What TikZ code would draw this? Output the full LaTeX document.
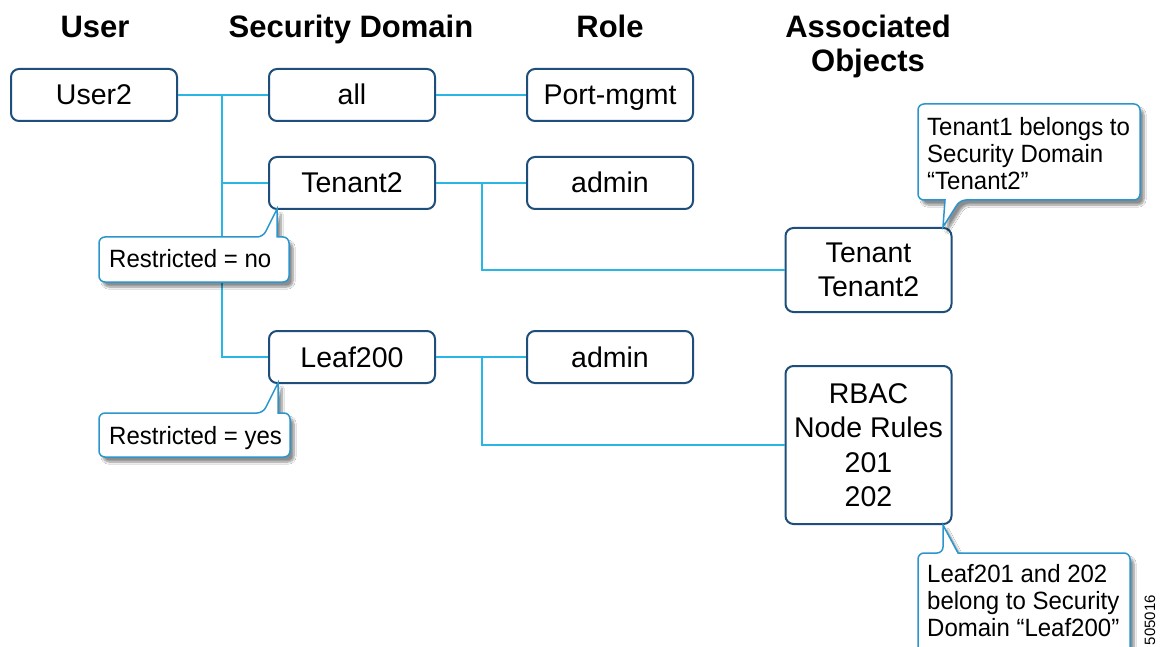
\documentclass[tikz,border=0pt]{standalone}
\usepackage{fontspec}
\setmainfont{Liberation Sans}
\newfontfamily\narrowfont[FakeStretch=0.96]{Liberation Sans}
\usetikzlibrary{shadows.blur}
\definecolor{boxline}{RGB}{30,78,122}
\definecolor{wire}{RGB}{41,182,230}
\definecolor{callline}{RGB}{42,150,205}
\tikzset{
  objbox/.style={draw=boxline, line width=2pt, rounded corners=8pt, fill=white,
    minimum width=166pt, minimum height=52pt, inner sep=0pt,
    font=\fontsize{28.5}{34.5}\selectfont, align=center},
  onebox/.style={objbox, text height=20pt, text depth=0pt},
  header/.style={font=\fontsize{31}{34}\selectfont\bfseries, anchor=base, align=center, inner sep=0pt},
  wireline/.style={draw=wire, line width=2pt},
  callshape/.style={draw=callline, line width=1.5pt, fill=white,
    blur shadow={shadow xshift=4pt, shadow yshift=-5pt, shadow blur steps=8, shadow opacity=45}},
  calltext/.style={font=\narrowfont\fontsize{25}{27}\selectfont, align=left, inner sep=0pt},
}
\begin{document}
\begin{tikzpicture}[x=1pt,y=-1pt]
\useasboundingbox (0,0) rectangle (1170,647);
\clip (0,0) rectangle (1170,647);
\fill[white] (0,0) rectangle (1170,647);

% headers
\node[header] (hUser) at (95,38) {User};
\node[header] (hSec) at (351,38) {Security Domain};
\node[header] (hRole) at (610,38) {Role};
\node[header] (hAssoc) at (868,72) {Associated\\Objects};

% coordinates for wire junctions
\coordinate (j1) at (222,95);
\coordinate (j2) at (222,183);
\coordinate (j3) at (222,357);
\coordinate (k1) at (482,183);
\coordinate (k2) at (482,270);
\coordinate (m1) at (482,357);
\coordinate (m2) at (482,445);

% boxes
\node[onebox] (user2) at (94,95) {User2};
\node[onebox] (all) at (352,95) {all};
\node[onebox] (port) at (610,95) {Port-mgmt};
\node[onebox] (tenant2) at (352,183) {Tenant2};
\node[onebox] (admin1) at (610,183) {admin};
\node[onebox] (leaf200) at (352,357) {Leaf200};
\node[onebox] (admin2) at (610,357) {admin};
\node[objbox, minimum height=84pt] (tenobj) at (868.5,270) {Tenant\\Tenant2};
\node[objbox, minimum height=158pt] (rbac) at (868.5,445) {RBAC\\Node Rules\\201\\202};

% wires
\draw[wireline] (user2.east) -- (all.west);
\draw[wireline] (j1) -- (j3) -- (leaf200.west);
\draw[wireline] (j2) -- (tenant2.west);
\draw[wireline] (all.east) -- (port.west);
\draw[wireline] (tenant2.east) -- (admin1.west);
\draw[wireline] (k1) -- (k2) -- (tenobj.west);
\draw[wireline] (leaf200.east) -- (admin2.west);
\draw[wireline] (m1) -- (m2) -- (rbac.west);

% callouts
\path[callshape] (194,282) [rounded corners=6pt] -- (99,282) -- (99,237) -- (263,237) [sharp corners] -- (277,209) -- (277,237) [rounded corners=6pt] -- (289,237) -- (289,282) -- cycle;
\node[calltext, anchor=west, text height=18pt, text depth=0pt] (rno) at (109,259) {Restricted = no};

\path[callshape] (194,457) [rounded corners=6pt] -- (99,457) -- (99,413) -- (263,413) [sharp corners] -- (278,383) -- (278,413) [rounded corners=6pt] -- (290,413) -- (290,457) -- cycle;
\node[calltext, anchor=west, text height=18pt, text depth=0pt] (ryes) at (109,435) {Restricted = yes};

\path[callshape] (1030,104) [rounded corners=6pt] -- (1140,104) -- (1140,200) -- (960,200) [sharp corners] -- (943,227) -- (945,200) [rounded corners=6pt] -- (918,200) -- (918,104) -- cycle;
\node[calltext, anchor=base west] (ct1) at (927,190) {Tenant1 belongs to\\Security Domain\\“Tenant2”};

\path[callshape] (1030,670) [rounded corners=6pt] -- (918,670) -- (918,553) -- (943,553) [sharp corners] -- (943,525) -- (958,553) [rounded corners=6pt] -- (1130,553) -- (1130,670) -- cycle;
\node[calltext, anchor=base west] (ct2) at (927,636) {Leaf201 and 202\\belong to Security\\Domain “Leaf200”};

% figure number
\node[font=\fontsize{15}{15}\selectfont, rotate=90, inner sep=0pt] (fignum) at (1150,620) {505016};
\end{tikzpicture}
\end{document}
